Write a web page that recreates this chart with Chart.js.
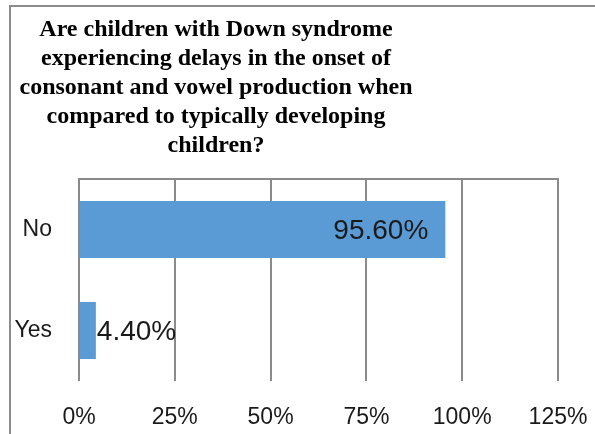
<!DOCTYPE html>
<html>
<head>
<meta charset="utf-8">
<script src="https://cdn.jsdelivr.net/npm/chart.js@4.4.1/dist/chart.umd.min.js"></script>
<style>
  html, body { margin: 0; padding: 0; background: #fff; overflow: hidden; }
  canvas { display: block; }
</style>
</head>
<body>
<canvas id="chart" width="595" height="434"></canvas>
<script>
// Survey question, one line per row of the heading
const titleLines = [
  'Are children with Down syndrome',
  'experiencing delays in the onset of',
  'consonant and vowel production when',
  'compared to typically developing',
  'children?'
];

// Answers and their share of responses (percent)
const categories = ['No', 'Yes'];
const shares = [95.6, 4.4];

// Value axis range and step (percent)
const axisMin = 0;
const axisMax = 125;
const axisStep = 25;

const BAR_BLUE = '#5B9BD5';
const LINE_GREY = '#8a8a8a';
const TEXT_DARK = '#1a1a1a';
const SANS = '"Liberation Sans", Arial, sans-serif';

// Outer frame and the multi-line heading
const framePlugin = {
  id: 'frame',
  beforeDraw(chart) {
    const ctx = chart.ctx;
    ctx.save();
    ctx.strokeStyle = '#8c8c8c';
    ctx.lineWidth = 2;
    ctx.strokeRect(10, 6, chart.width + 40, chart.height + 40);
    ctx.fillStyle = '#000';
    ctx.font = 'bold 24px "Liberation Serif", "Times New Roman", serif';
    ctx.textAlign = 'center';
    ctx.textBaseline = 'alphabetic';
    titleLines.forEach((line, i) => {
      ctx.fillText(line, 216, 36 + i * 29);
    });
    ctx.restore();
  },
  afterDraw(chart) {
    // top edge of the plot area
    const a = chart.chartArea;
    const ctx = chart.ctx;
    ctx.save();
    ctx.strokeStyle = LINE_GREY;
    ctx.lineWidth = 2;
    ctx.beginPath();
    ctx.moveTo(a.left - 1, a.top);
    ctx.lineTo(a.right + 1, a.top);
    ctx.stroke();
    ctx.restore();
  }
};

// Value labels: inside the bar end when they fit, otherwise just past it
const valueLabelPlugin = {
  id: 'valueLabels',
  afterDatasetsDraw(chart) {
    const ctx = chart.ctx;
    const meta = chart.getDatasetMeta(0);
    const values = chart.data.datasets[0].data;
    ctx.save();
    ctx.font = '28px ' + SANS;
    ctx.fillStyle = TEXT_DARK;
    ctx.textBaseline = 'middle';
    meta.data.forEach((bar, i) => {
      const text = values[i].toFixed(2) + '%';
      const w = ctx.measureText(text).width;
      const len = bar.x - bar.base;
      if (w + 34 <= len) {
        ctx.textAlign = 'right';
        ctx.fillText(text, bar.x - 17, bar.y + 2);
      } else {
        ctx.textAlign = 'left';
        ctx.fillText(text, bar.x + 1, bar.y + 2);
      }
    });
    ctx.restore();
  }
};

new Chart(document.getElementById('chart'), {
  type: 'bar',
  data: {
    labels: categories,
    datasets: [{
      data: shares,
      backgroundColor: BAR_BLUE,
      borderWidth: 0,
      barPercentage: 0.565,
      categoryPercentage: 1
    }]
  },
  options: {
    indexAxis: 'y',
    responsive: false,
    animation: false,
    devicePixelRatio: 1,
    layout: { padding: { top: 179, right: 0, left: 0, bottom: 0 } },
    plugins: {
      legend: { display: false },
      title: { display: false },
      tooltip: { enabled: false }
    },
    scales: {
      x: {
        min: axisMin,
        max: axisMax,
        grid: { color: LINE_GREY, lineWidth: 2, drawTicks: false },
        border: { display: false },
        ticks: {
          stepSize: axisStep,
          padding: 23,
          color: TEXT_DARK,
          font: { family: SANS, size: 23 },
          callback: (v) => v + '%'
        },
        afterFit(scale) {
          scale.height = 53;
          // room for the last tick label only, not the label gap
          scale.paddingRight = 37;
          scale.paddingLeft = 0;
        }
      },
      y: {
        grid: { display: false, drawTicks: false },
        border: { display: false },
        ticks: {
          padding: 27,
          color: TEXT_DARK,
          font: { family: SANS, size: 23 }
        },
        afterFit(scale) { scale.width = 79; }
      }
    }
  },
  plugins: [framePlugin, valueLabelPlugin]
});
</script>
</body>
</html>
